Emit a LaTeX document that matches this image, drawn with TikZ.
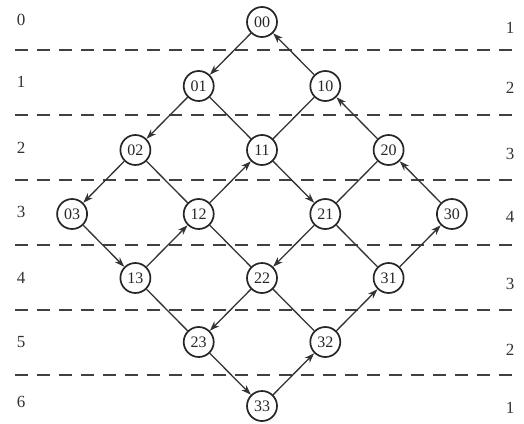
\documentclass[tikz,border=0pt]{standalone}
\usepackage{fontspec}
\setmainfont{Liberation Serif}
\usetikzlibrary{arrows.meta}
\begin{document}
\begin{tikzpicture}[x=1pt,y=-1pt,
  st/.style={circle,draw=black!85,line width=1.7pt,minimum size=30pt,inner sep=0pt,font=\fontsize{16}{18}\selectfont,text=black!85},
  ed/.style={draw=black!80,line width=1.3pt},
  ar/.style={ed,-{Stealth[length=10pt,width=7pt]}},
  sep/.style={draw=black!75,line width=1.3pt,dash pattern=on 13pt off 9pt},
  lab/.style={font=\fontsize{17}{19}\selectfont,text=black!80}]
\useasboundingbox (0,0) rectangle (524,423);
\foreach \i in {0,...,3}{
  \foreach \j in {0,...,3}{
    \node[st] (n\i\j) at ({262+63.3*(\i-\j)},{22+64*(\i+\j)}) {\i\j};
  }
}
% separators
\foreach \k in {0,...,5}{
  \coordinate (sl\k) at (15,{50+65*\k});
  \coordinate (sr\k) at (520,{50+65*\k});
  \draw[sep] (sl\k) -- (sr\k);
}
% left labels
\foreach \k/\yy in {0/20,1/82,2/148,3/212,4/278,5/342,6/402}{
  \node[lab] (l\k) at (21,\yy) {\k};
}
% right labels
\foreach \k/\v/\yy in {0/1/28,1/2/88,2/3/154,3/4/217,4/3/284,5/2/350,6/1/408}{
  \node[lab] (r\k) at (510,\yy) {\v};
}
% arrows
\draw[ar] (n00) -- (n01);
\draw[ar] (n01) -- (n02);
\draw[ar] (n02) -- (n03);
\draw[ar] (n10) -- (n00);
\draw[ar] (n20) -- (n10);
\draw[ar] (n30) -- (n20);
\draw[ar] (n11) -- (n21);
\draw[ar] (n12) -- (n11);
\draw[ar] (n03) -- (n13);
\draw[ar] (n13) -- (n12);
\draw[ar] (n21) -- (n22);
\draw[ar] (n31) -- (n30);
\draw[ar] (n22) -- (n23);
\draw[ar] (n32) -- (n31);
\draw[ar] (n23) -- (n33);
\draw[ar] (n33) -- (n32);
% plain lines
\draw[ed] (n01) -- (n11);
\draw[ed] (n02) -- (n12);
\draw[ed] (n11) -- (n10);
\draw[ed] (n21) -- (n20);
\draw[ed] (n12) -- (n22);
\draw[ed] (n21) -- (n31);
\draw[ed] (n13) -- (n23);
\draw[ed] (n22) -- (n32);
\end{tikzpicture}
\end{document}
